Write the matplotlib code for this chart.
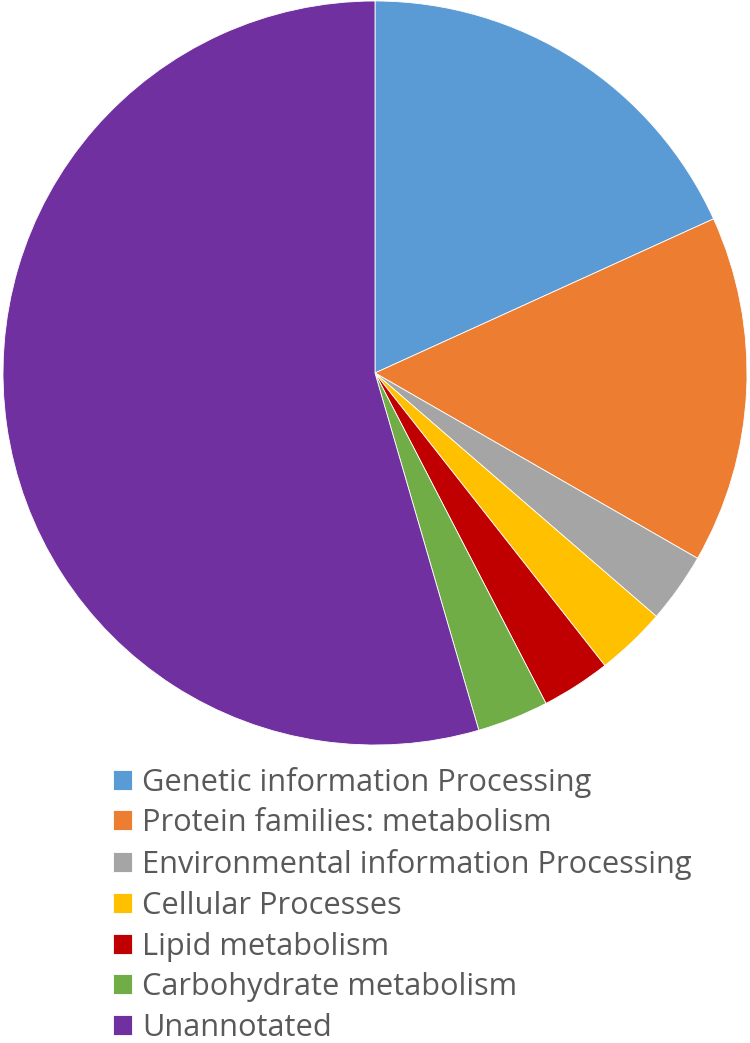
import matplotlib
matplotlib.use("Agg")
import matplotlib.pyplot as plt

categories = [
    "Genetic information Processing",
    "Protein families: metabolism",
    "Environmental information Processing",
    "Cellular Processes",
    "Lipid metabolism",
    "Carbohydrate metabolism",
    "Unannotated",
]
values = [18.2, 15.1, 3.05, 3.05, 3.0, 3.1, 54.5]
colors = ["#5B9BD5", "#ED7D31", "#A5A5A5", "#FFC000", "#C00000", "#70AD47", "#7030A0"]

W, H, DPI = 750, 1043, 100
fig = plt.figure(figsize=(W / DPI, H / DPI), dpi=DPI)
fig.patch.set_facecolor("white")

# pie: center (375, 373) px from top, radius ~372 px
cx, cy, r = 375, 373, 372
ax = fig.add_axes([(cx - r) / W, (H - cy - r) / H, 2 * r / W, 2 * r / H])
wedges, _ = ax.pie(values, colors=colors, startangle=90, counterclock=False,
                   radius=1.0, wedgeprops=dict(edgecolor="white", linewidth=0.6))
ax.set_xlim(-1, 1)
ax.set_ylim(-1, 1)
ax.set_aspect("equal")
ax.axis("off")

FAMILY = "Open Sans"
renderer = fig.canvas.get_renderer()

# fit font size so the longest label spans ~548 px
probe = fig.text(0, 0, categories[2], family=FAMILY, size=20)
wpx = probe.get_window_extent(renderer).width
probe.remove()
fs = 20 * 548.0 / wpx
fs_px = fs * DPI / 72.0

target_pitch = 41.0      # px between rows
first_center = 782.0     # px from top
text_left = 142.0        # px
box_px = 19.0

def make_legend(ls, anchor_y):
    hl = box_px / fs_px
    leg = fig.legend(wedges, categories, loc="upper left",
                     bbox_to_anchor=(113 / W, anchor_y),
                     frameon=False, prop={"family": FAMILY, "size": fs},
                     handlelength=hl, handleheight=hl,
                     handletextpad=(text_left - 113 - box_px) / fs_px,
                     labelspacing=ls, borderpad=0, borderaxespad=0)
    for t in leg.get_texts():
        t.set_color("#595959")
    return leg

ls = 0.3
anchor_y = (H - 764) / H
for _ in range(3):
    leg = make_legend(ls, anchor_y)
    fig.canvas.draw()
    bbs = [t.get_window_extent(renderer) for t in leg.get_texts()]
    centers = [(b.y0 + b.y1) / 2 for b in bbs]
    pitch = (centers[0] - centers[-1]) / (len(centers) - 1)
    first = H - centers[0]
    leg.remove()
    ls += (target_pitch - pitch) / fs_px
    anchor_y += (first - first_center) / H

leg = make_legend(ls, anchor_y)

fig.savefig("out.png", dpi=DPI, facecolor="white")
